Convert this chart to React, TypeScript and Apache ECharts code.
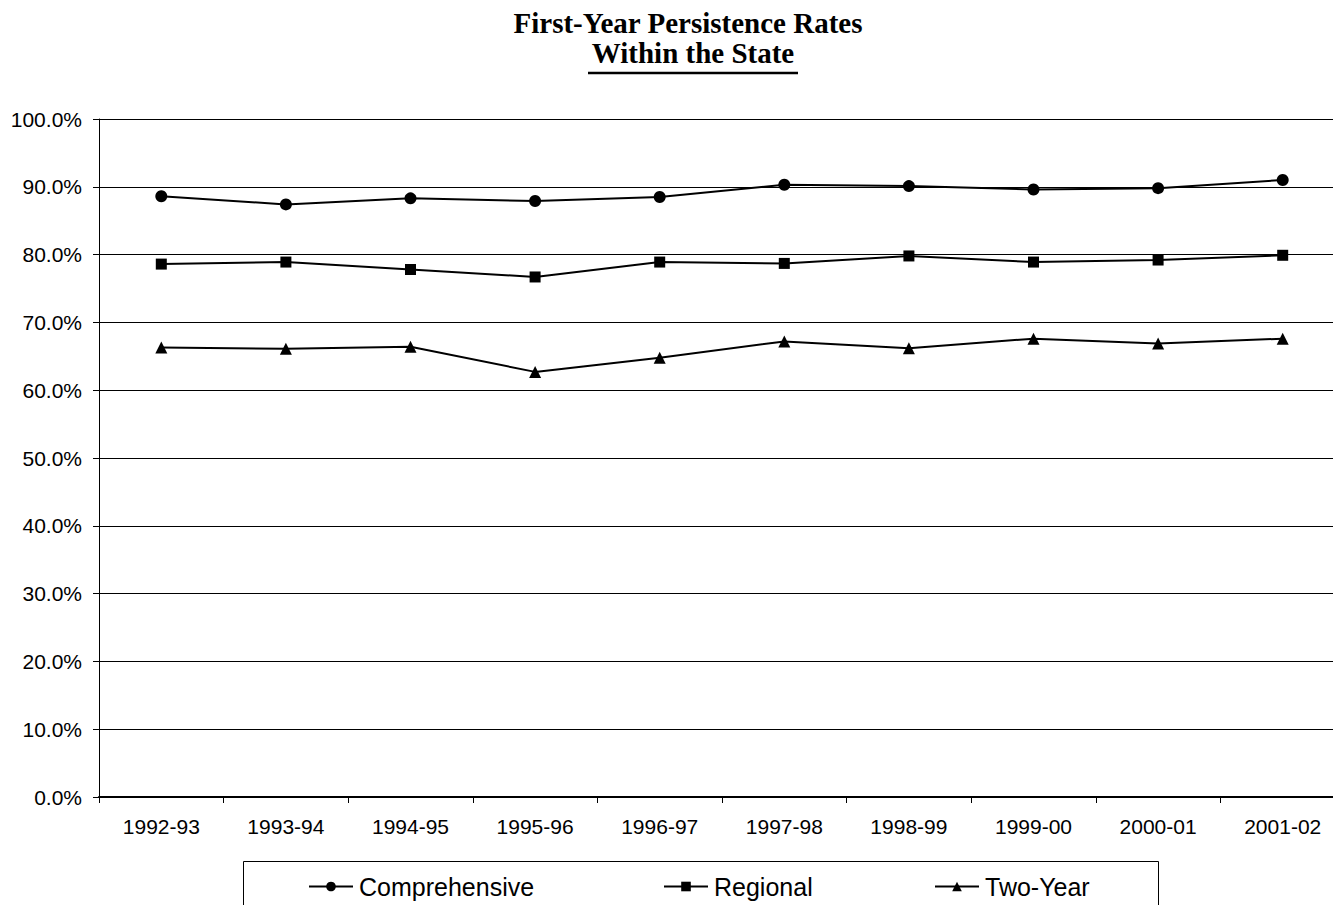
import React, { useEffect, useRef } from "react";
import * as echarts from "echarts";

const categories = ["1992-93", "1993-94", "1994-95", "1995-96", "1996-97", "1997-98", "1998-99", "1999-00", "2000-01", "2001-02"];
const comprehensive = [88.6, 87.4, 88.3, 87.9, 88.5, 90.3, 90.1, 89.6, 89.8, 91.0];
const regional = [78.6, 78.9, 77.8, 76.7, 78.9, 78.7, 79.8, 78.9, 79.2, 79.9];
const twoYear = [66.3, 66.1, 66.4, 62.7, 64.8, 67.2, 66.2, 67.6, 66.9, 67.6];
const seriesNames = ["Comprehensive", "Regional", "Two-Year"];
const titleLine1 = "First-Year Persistence Rates";
const titleLine2 = "Within the State";

export default function App() {
  const ref = useRef<HTMLDivElement>(null);
  useEffect(() => {
    if (!ref.current) return;
    const chart = echarts.init(ref.current, null, { renderer: "svg" });
    const lineSeries = (name: string, data: number[], symbol: string, size: number) => ({
      name,
      type: "line",
      data,
      symbol,
      symbolSize: size,
      lineStyle: { color: "#000", width: 2 },
      itemStyle: { color: "#000" },
      emphasis: { disabled: true },
    });
    const legendLefts = [308, 663, 934];
    const legends = seriesNames.map((n, i) => ({
      left: legendLefts[i],
      top: 874,
      padding: 0,
      itemGap: 0,
      itemWidth: 44,
      itemHeight: 12,
      textStyle: { color: "#000", fontFamily: "Liberation Sans, Arial, sans-serif", fontSize: 25, padding: [0, 0, 0, 1] },
      data: [n],
    }));
    chart.setOption({
      animation: false,
      backgroundColor: "#fff",
      grid: { left: 99, top: 119, right: 0, bottom: 108, containLabel: false },
      xAxis: {
        type: "category",
        data: categories,
        boundaryGap: true,
        axisLine: { lineStyle: { color: "#000", width: 2 } },
        axisTick: { show: true, length: 6, lineStyle: { color: "#000", width: 1 } },
        axisLabel: { color: "#000", fontFamily: "Liberation Sans, Arial, sans-serif", fontSize: 21, margin: 19 },
        splitLine: { show: false },
      },
      yAxis: {
        type: "value",
        min: 0,
        max: 100,
        interval: 10,
        axisLine: { show: true, lineStyle: { color: "#000", width: 1 } },
        axisTick: { show: true, length: 6, lineStyle: { color: "#000" } },
        axisLabel: {
          color: "#000",
          fontFamily: "Liberation Sans, Arial, sans-serif",
          fontSize: 21,
          margin: 17,
          formatter: (v: number) => v.toFixed(1) + "%",
        },
        splitLine: { show: true, lineStyle: { color: "#000", width: 1 } },
      },
      legend: legends,
      graphic: [
        {
          type: "rect",
          shape: { x: 243.5, y: 861.5, width: 915, height: 80 },
          style: { fill: "none", stroke: "#000", lineWidth: 1 },
          silent: true,
          z: -1,
        },
        {
          type: "text",
          x: 688,
          y: 23,
          style: { text: titleLine1, font: "bold 29px 'Liberation Serif', 'Times New Roman', serif", fill: "#000", textAlign: "center", verticalAlign: "middle" },
        },
        {
          type: "text",
          x: 693,
          y: 52.5,
          style: { text: titleLine2, font: "bold 29px 'Liberation Serif', 'Times New Roman', serif", fill: "#000", textAlign: "center", verticalAlign: "middle" },
        },
        {
          type: "line",
          shape: { x1: 588, y1: 73, x2: 798, y2: 73 },
          style: { stroke: "#000", lineWidth: 2.5 },
        },
      ],
      series: [
        lineSeries(seriesNames[0], comprehensive, "circle", 12),
        lineSeries(seriesNames[1], regional, "rect", 11),
        lineSeries(seriesNames[2], twoYear, "triangle", 12),
      ],
    });
    return () => chart.dispose();
  }, []);
  return (
    <div style={{ position: "absolute", left: 0, top: 0, width: 1333, height: 905, overflow: "hidden" }}>
      <div ref={ref} style={{ width: 1345, height: 905 }} />
    </div>
  );
}
